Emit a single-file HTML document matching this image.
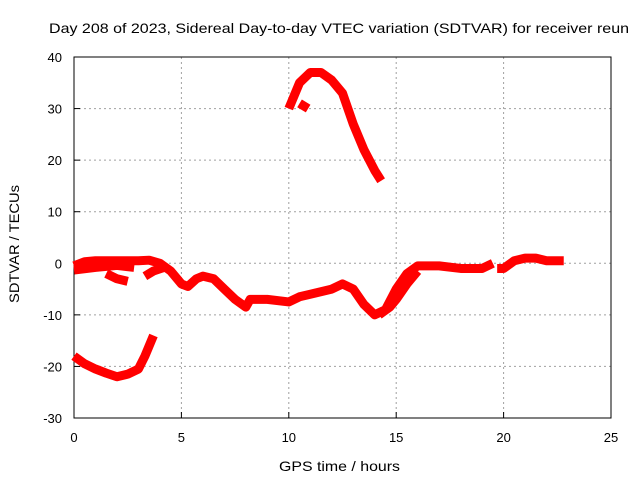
<!DOCTYPE html>
<html><head><meta charset="utf-8"><style>
body{margin:0;background:#fff}
svg{font-family:"Liberation Sans",sans-serif;font-size:13px}
</style></head><body>
<svg width="640" height="480" xmlns="http://www.w3.org/2000/svg">
<g id="grid"></g>
<g id="axes"></g>
<g id="series"></g>
<text x="49" y="33" font-size="14" textLength="580" lengthAdjust="spacingAndGlyphs">Day 208 of 2023, Sidereal Day-to-day VTEC variation (SDTVAR) for receiver reun</text>
<text x="279" y="471" font-size="14" textLength="121" lengthAdjust="spacingAndGlyphs">GPS time / hours</text>
<text transform="translate(19,303) rotate(-90)" font-size="14" textLength="118" lengthAdjust="spacingAndGlyphs">SDTVAR / TECUs</text>
</svg>
<script>
const xTicks=[0,5,10,15,20,25];
const yTicks=[-30,-20,-10,0,10,20,30,40];
const mainHours=[0,0.5,1,2,3,3.5,4,4.5,5,5.3,5.7,6,6.5,7,7.5,8,8.2,9,10,10.5,11,12,12.5,13,13.5,14,14.5,15,15.5,16,17,18,19,19.5];
const mainVals=[-0.5,0.3,0.5,0.5,0.5,0.6,0,-1.5,-4,-4.5,-3,-2.5,-3,-5,-7,-8.5,-7,-7,-7.5,-6.5,-6,-5,-4,-5,-8,-10,-9,-5,-2,-0.5,-0.5,-1,-1,0];
const lateHours=[19.7,20,20.5,21,21.5,22,22.8];
const lateVals=[-1,-1,0.5,1,1,0.5,0.5];
const earlyLowHours=[0,1,2,2.8];
const earlyLowVals=[-1.3,-0.8,-0.4,-0.8];
const earlyDipHours=[1.5,2,2.5];
const earlyDipVals=[-2,-3,-3.5];
const earlyMidHours=[3.3,3.7,4.2];
const earlyMidVals=[-2.5,-1.5,-0.8];
const branchHours=[14.2,14.7,15,15.5,16];
const branchVals=[-10,-8.5,-7,-4,-1.5];
const bottomHours=[0,0.5,1,1.5,2,2.5,3,3.3,3.7];
const bottomVals=[-18,-19.5,-20.5,-21.3,-22,-21.5,-20.5,-18,-14];
const topHours=[10,10.5,11,11.5,12,12.5,13,13.5,14,14.3];
const topVals=[30,35,37,37,35.5,33,27,22,18,16];
const smallHours=[10.5,10.9];
const smallVals=[31,30];
const X0=74,X1=611,Y0=418,Y1=57;
const sx=h=>X0+(h-0)/25*(X1-X0);
const sy=v=>Y0-(v+30)/70*(Y0-Y1);
const NS="http://www.w3.org/2000/svg";
function mk(t,p,a){const e=document.createElementNS(NS,t);for(const k in a)e.setAttribute(k,a[k]);p.appendChild(e);return e;}
const grid=document.getElementById('grid'),axes=document.getElementById('axes'),ser=document.getElementById('series');
xTicks.forEach(t=>{
 if(t>0&&t<25){const l=mk('line',grid,{x1:sx(t),x2:sx(t),y1:Y1,y2:Y0,stroke:'#a0a0a0','stroke-dasharray':'2,3'});
 
 }
 const tk=mk('line',axes,{x1:sx(t),x2:sx(t),y1:Y0,y2:Y0-6,stroke:'#000'});
 
 
 const tx=mk('text',axes,{x:sx(t),y:Y0+24,'text-anchor':'middle'});tx.textContent=t;
 
 
});
yTicks.forEach(t=>{
 if(t>-30&&t<40){const l=mk('line',grid,{x1:X0,x2:X1,y1:sy(t),y2:sy(t),stroke:'#a0a0a0','stroke-dasharray':'2,3'});
 
 }
 const tk=mk('line',axes,{x1:X0,x2:X0+6,y1:sy(t),y2:sy(t),stroke:'#000'});
 
 
 const tx=mk('text',axes,{x:X0-12,y:sy(t)+5,'text-anchor':'end'});tx.textContent=t;
 
 
});
const fr=mk('rect',axes,{x:X0,y:Y1,width:X1-X0,height:Y0-Y1,fill:'none',stroke:'#000'});


[[mainHours,mainVals,'main-band'],[lateHours,lateVals,'late-band'],[earlyLowHours,earlyLowVals,'early-low-band'],[earlyDipHours,earlyDipVals,'early-dip'],[earlyMidHours,earlyMidVals,'early-mid'],[branchHours,branchVals,'recovery-branch'],[bottomHours,bottomVals,'bottom-arc'],[topHours,topVals,'top-arc'],[smallHours,smallVals,'top-fragment']].forEach(([hs,vs,n])=>{
 const p=mk('polyline',ser,{points:hs.map((h,i)=>sx(h)+','+sy(vs[i])).join(' '),fill:'none',stroke:'#ff0000','stroke-width':9,'stroke-linejoin':'round'});
 
 
});
</script>
</body></html>
